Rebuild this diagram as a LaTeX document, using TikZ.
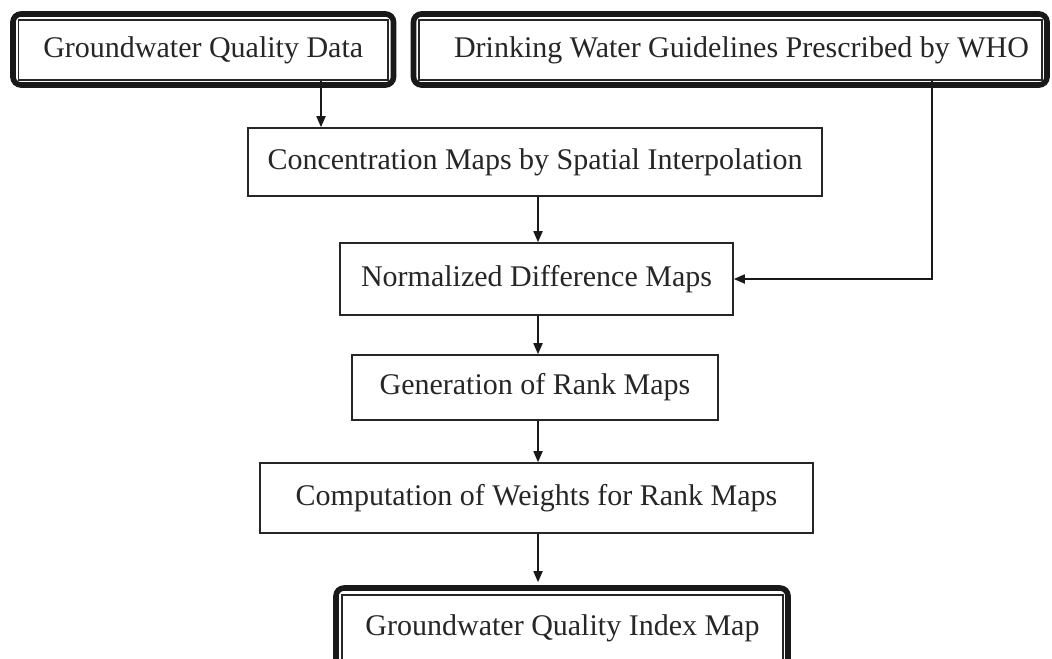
\documentclass[tikz,border=0pt]{standalone}
\usepackage{fontspec}
\setmainfont{Liberation Serif}
\usetikzlibrary{arrows.meta}
\tikzset{
  box/.style={draw=black!85, line width=0.8pt, fill=white, inner sep=0pt, font=\fontsize{15}{18}\selectfont, text=black!85},
  frame/.style={draw=black!90, line width=2.8pt, rounded corners=4pt},
  arr/.style={draw=black!90, line width=0.85pt, -{Triangle[length=5.5pt,width=4.5pt]}},
}
\begin{document}
\begin{tikzpicture}[x=0.5pt,y=-0.5pt]
\useasboundingbox[fill=white] (0,0) rectangle (1052,658);
% outer frames
\draw[frame] (13,14) rectangle (393.5,85);
\draw[frame] (413.5,14) rectangle (1047,85);
\draw[frame] (336,588) rectangle (788,668);
% nodes
\node[box, minimum width=184.75pt, minimum height=29.75pt] (gqd) at (203.25,50) {Groundwater Quality Data};
\node[box, minimum width=311.5pt, minimum height=29.75pt] (who) at (730.5,50) {\hspace*{11pt}Drinking Water Guidelines Prescribed by WHO};
\node[box, minimum width=287pt, minimum height=34pt] (conc) at (535,162) {Concentration Maps by Spatial Interpolation};
\node[box, minimum width=196.5pt, minimum height=36pt] (norm) at (536.5,279) {Normalized Difference Maps};
\node[box, minimum width=183pt, minimum height=32.5pt] (gen) at (535,387.5) {Generation of Rank Maps};
\node[box, minimum width=276.5pt, minimum height=35pt] (comp) at (536.5,498) {Computation of Weights for Rank Maps};
\node[box, minimum width=220.5pt, minimum height=33pt] (gqim) at (562.5,628) {Groundwater Quality Index Map};
% connectors
\draw[arr] (gqd.south -| 321,0) -- (conc.north -| 321,0);
\draw[arr] (conc.south -| 538,0) -- (norm.north -| 538,0);
\draw[arr] (who.south -| 932,0) |- (norm.east);
\draw[arr] (norm.south -| 538,0) -- (gen.north -| 538,0);
\draw[arr] (gen.south -| 538,0) -- (comp.north -| 538,0);
\draw[arr] (comp.south -| 538,0) -- ([yshift=6pt]gqim.north -| 538,0);
\end{tikzpicture}
\end{document}
